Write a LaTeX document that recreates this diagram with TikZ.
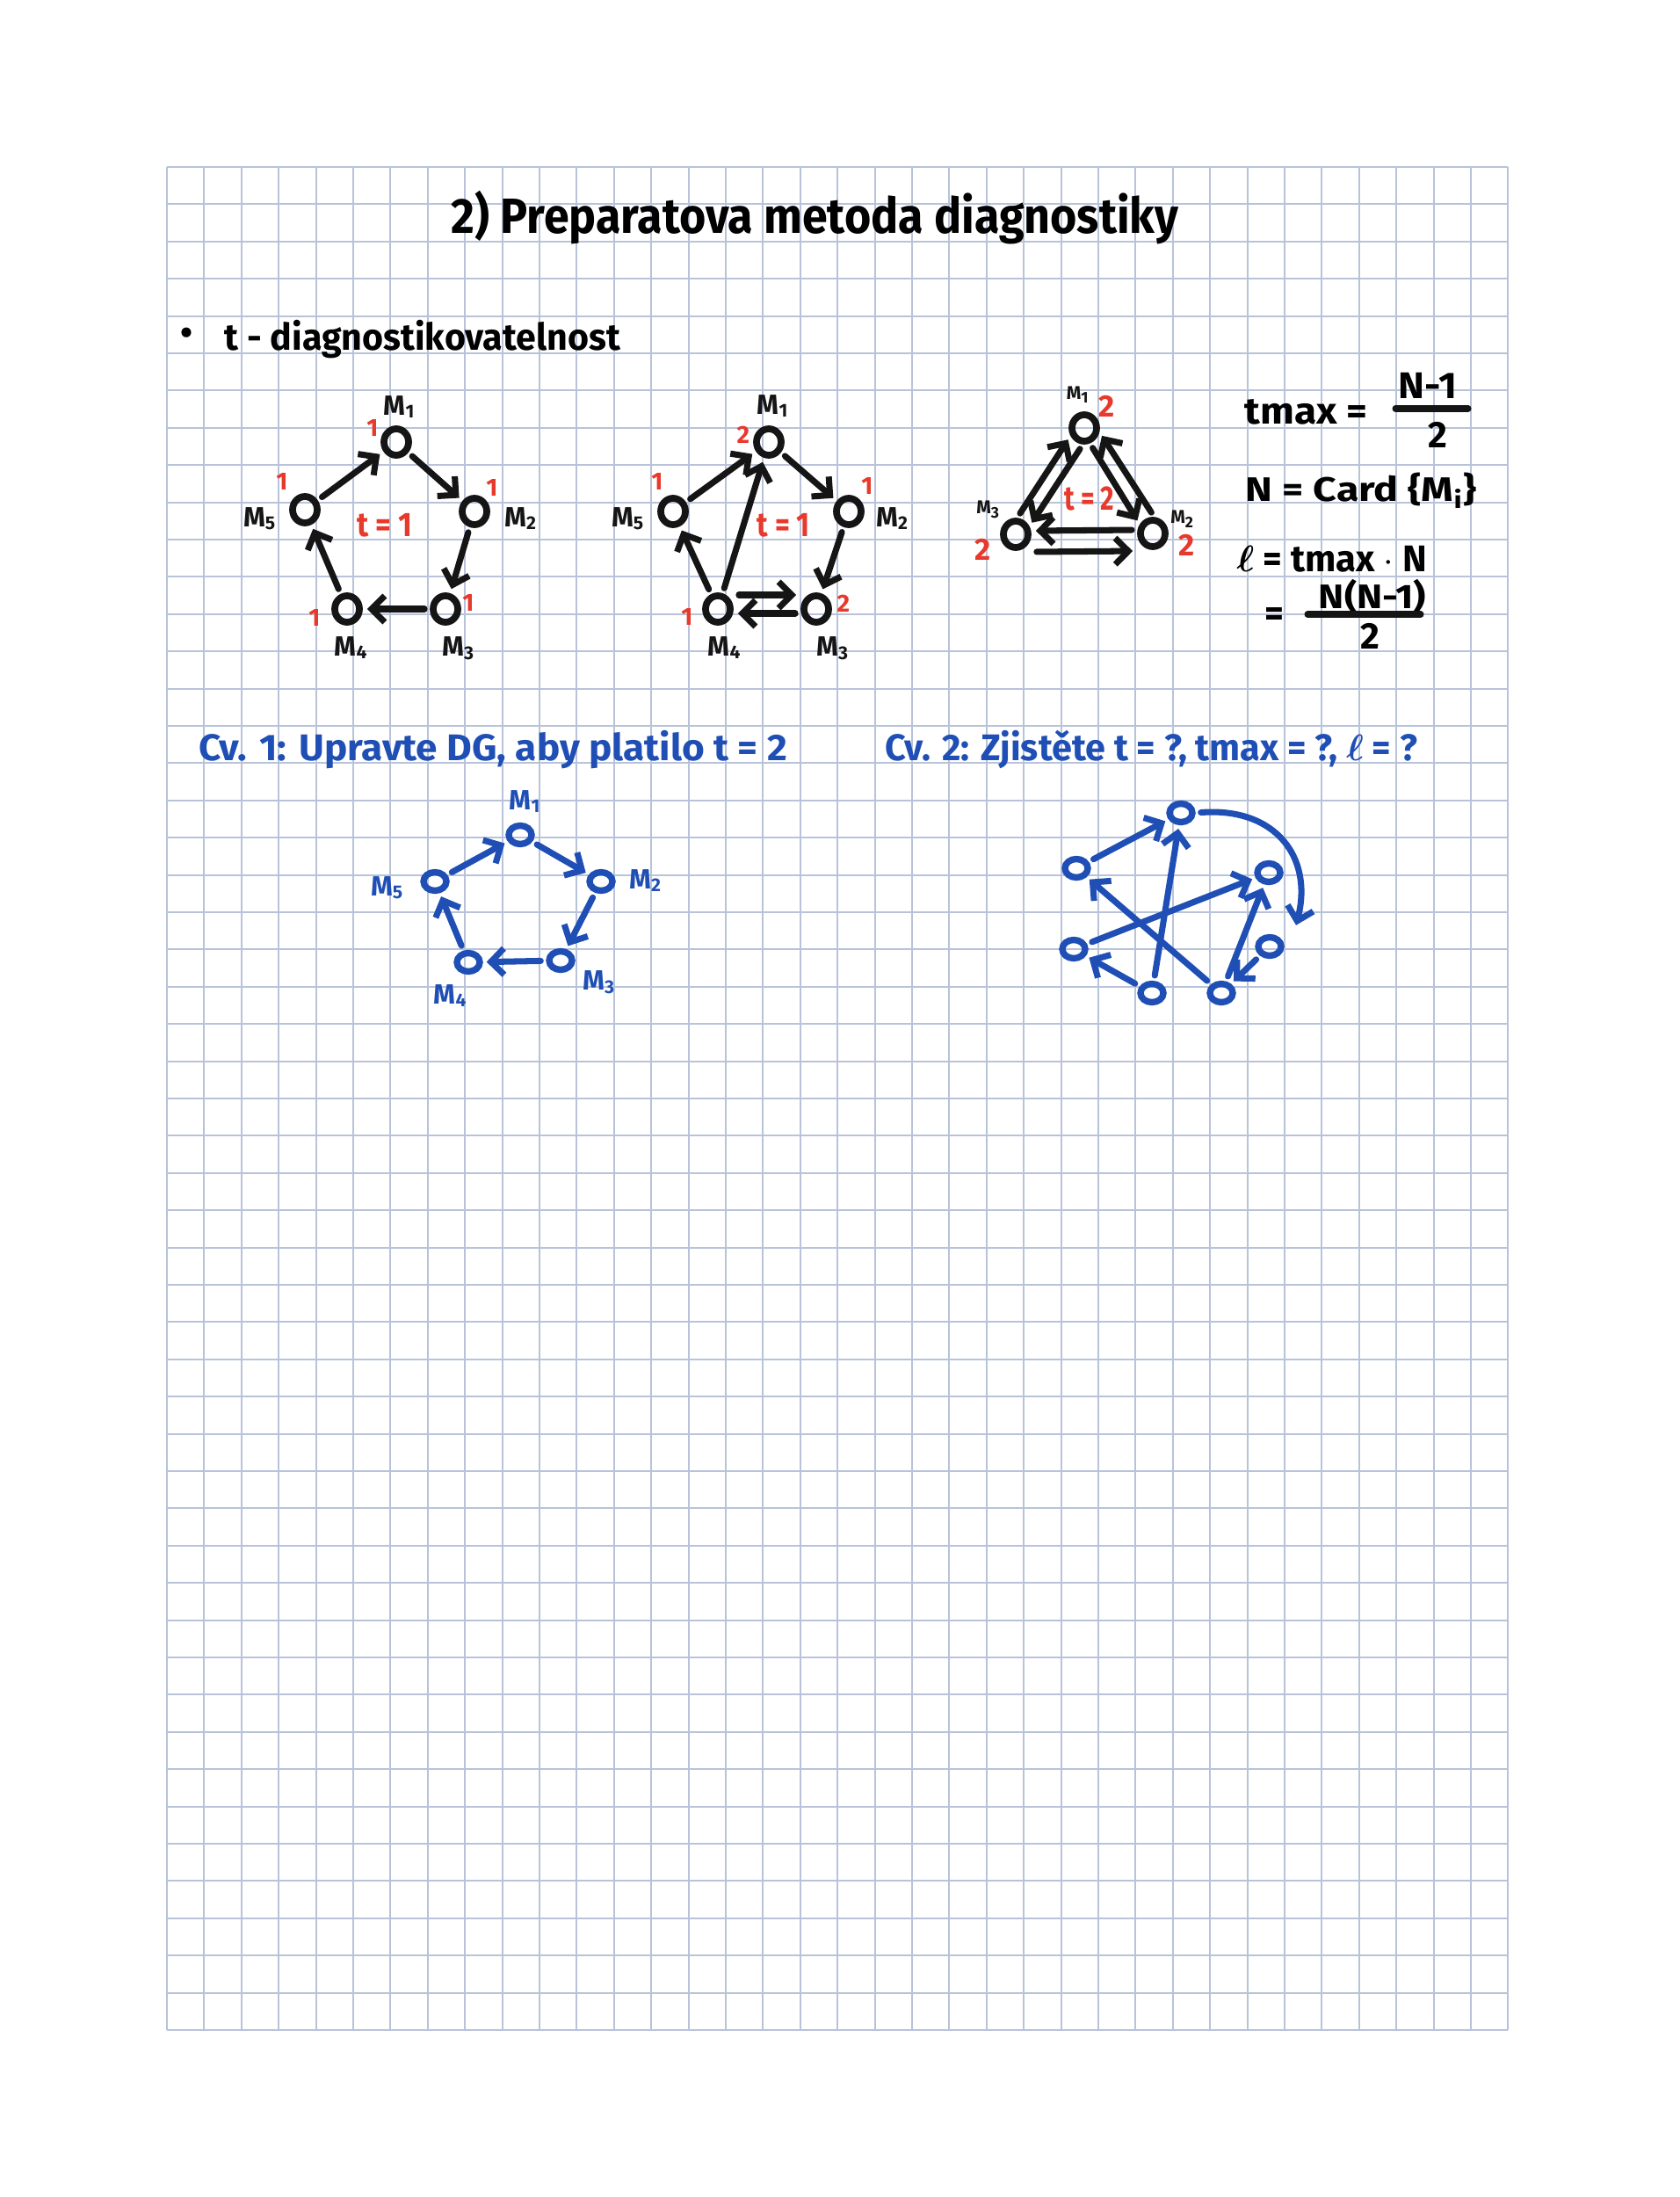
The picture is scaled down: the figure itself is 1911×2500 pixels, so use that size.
\documentclass[tikz,border=0pt]{standalone}
\usepackage{fontspec}
\setmainfont{Fira Sans}
\usepackage{graphicx}
\usetikzlibrary{arrows.meta,calc,shapes.geometric}
\definecolor{Ink}{HTML}{151515}
\definecolor{Red}{HTML}{E8392D}
\definecolor{Pen}{HTML}{1F4FB5}
\definecolor{Grid}{HTML}{B8C3DA}
\newcommand{\hw}[2]{\resizebox{#1}{\height}{#2}}
\newcommand{\mach}[1]{M\textsubscript{#1}}
\tikzset{
  gridline/.style={draw=Grid, line width=0.6pt},
  dgnode/.style={ellipse, draw=Ink, line width=2.2pt, minimum width=0.28cm, minimum height=0.30cm, inner sep=0pt},
  dgblue/.style={ellipse, draw=Pen, line width=2.1pt, minimum width=0.26cm, minimum height=0.21cm, inner sep=0pt},
  dgarrow/.style={draw=Ink, line width=2pt, line cap=round, -{Straight Barb[length=1.5mm,width=3mm]}, shorten <=0.06cm, shorten >=0.05cm},
  dgbluearrow/.style={dgarrow, draw=Pen, shorten <=0.06cm, shorten >=0.04cm},
  mlabel/.style={inner sep=0pt, text=Ink, font=\bfseries\fontsize{9}{9}\selectfont},
  rednum/.style={inner sep=0pt, text=Red, font=\bfseries\fontsize{8}{8}\selectfont},
  hand/.style={anchor=base west, inner sep=0pt, font=\bfseries\fontsize{12}{12}\selectfont},
}

\begin{document}
\begin{tikzpicture}[x=0.01cm, y=-0.01cm]
  \useasboundingbox (0,0) rectangle (1911,2500);
  \fill[white] (0,0) rectangle (1911,2500);
  \foreach \i in {0,...,36} \draw[gridline] ({190+42.4*\i},190) -- ({190+42.4*\i},2310);
  \foreach \j in {0,...,50} \draw[gridline] (190,{190+42.4*\j}) -- (1716.4,{190+42.4*\j});

  \node[hand, font=\bfseries\fontsize{16}{16}\selectfont] (title) at (513,265) {\hw{8.27cm}{2) Preparatova metoda diagnostiky}};
  \node[inner sep=0pt, font=\fontsize{14}{14}\selectfont] (bullet) at (212,384) {•};
  \node[hand] (topic) at (255,398) {\hw{4.5cm}{t - diagnostikovatelnost}};

  \node[dgnode] (aM1) at (451,503) {};
  \node[dgnode] (aM2) at (540,582) {};
  \node[dgnode] (aM3) at (507,693) {};
  \node[dgnode] (aM4) at (395,693) {};
  \node[dgnode] (aM5) at (347,580) {};
  \node[mlabel] (aL1) at (455,463) {\mach{1}};
  \node[mlabel] (aL2) at (593,590) {\mach{2}};
  \node[mlabel] (aL3) at (522,738) {\mach{3}};
  \node[mlabel] (aL4) at (400,737) {\mach{4}};
  \node[mlabel] (aL5) at (296,590) {\mach{5}};
  \node[rednum] (aR1) at (424,487) {1};
  \node[rednum] (aR2) at (560,555) {1};
  \node[rednum] (aR3) at (533,686) {1};
  \node[rednum] (aR4) at (358,703) {1};
  \node[rednum] (aR5) at (321,548) {1};
  \node[rednum, font=\bfseries\fontsize{11}{11}\selectfont] (aT) at (438,598) {\hw{0.63cm}{t = 1}};
  \draw[dgarrow] (aM5) -- (aM1);
  \draw[dgarrow] (aM1) -- (aM2);
  \draw[dgarrow] (aM2) -- (aM3);
  \draw[dgarrow] (aM3) -- (aM4);
  \draw[dgarrow] (aM4) -- (aM5);

  \node[dgnode] (bM1) at (875,503) {};
  \node[dgnode] (bM2) at (966,582) {};
  \node[dgnode] (bM3) at (929,693) {};
  \node[dgnode] (bM4) at (817,693) {};
  \node[dgnode] (bM5) at (766,582) {};
  \node[mlabel] (bL1) at (880,462) {\mach{1}};
  \node[mlabel] (bL2) at (1016,590) {\mach{2}};
  \node[mlabel] (bL3) at (948,738) {\mach{3}};
  \node[mlabel] (bL4) at (825,737) {\mach{4}};
  \node[mlabel] (bL5) at (715,590) {\mach{5}};
  \node[rednum] (bR1) at (846,495) {2};
  \node[rednum] (bR2) at (987,553) {1};
  \node[rednum] (bR3) at (960,687) {2};
  \node[rednum] (bR4) at (782,702) {1};
  \node[rednum] (bR5) at (748,548) {1};
  \node[rednum, font=\bfseries\fontsize{11}{11}\selectfont] (bT) at (892,598) {\hw{0.6cm}{t = 1}};
  \draw[dgarrow] (bM5) -- (bM1);
  \draw[dgarrow] (bM1) -- (bM2);
  \draw[dgarrow] (bM2) -- (bM3);
  \draw[dgarrow] (bM4) -- (bM5);
  \draw[dgarrow] (bM4) -- (bM1);
  \draw[dgarrow] ([yshift=0.16cm]bM4.east) -- ([yshift=0.16cm]bM3.west);
  \draw[dgarrow] ([yshift=-0.05cm]bM3.west) -- ([yshift=-0.05cm]bM4.east);

  \node[dgnode] (cM1) at (1234,487) {};
  \node[dgnode] (cM2) at (1312,607) {};
  \node[dgnode] (cM3) at (1156,608) {};
  \node[mlabel, font=\bfseries\fontsize{6}{6}\selectfont] (cL1) at (1227,449) {\mach{1}};
  \node[mlabel, font=\bfseries\fontsize{6}{6}\selectfont] (cL2) at (1346,591) {\mach{2}};
  \node[mlabel, font=\bfseries\fontsize{6}{6}\selectfont] (cL3) at (1125,580) {\mach{3}};
  \node[rednum, font=\bfseries\fontsize{10}{10}\selectfont] (cR1) at (1260,462) {2};
  \node[rednum, font=\bfseries\fontsize{10}{10}\selectfont] (cR2) at (1351,620) {2};
  \node[rednum, font=\bfseries\fontsize{10}{10}\selectfont] (cR3) at (1119,625) {2};
  \node[rednum, font=\bfseries\fontsize{11}{11}\selectfont] (cT) at (1240,567) {\hw{0.57cm}{t = 2}};
  \draw[dgarrow] (cM3.85) -- (cM1.210);
  \draw[dgarrow] (cM1.265) -- (cM3.30);
  \draw[dgarrow] (cM1.290) -- (cM2.145);
  \draw[dgarrow] (cM2.85) -- (cM1.345);
  \draw[dgarrow] ([yshift=0.04cm]cM2.west) -- ([yshift=0.04cm]cM3.east);
  \draw[dgarrow] ([yshift=-0.2cm]cM3.east) -- ([yshift=-0.2cm]cM2.west);

  \node[hand] (tmax) at (1416,482) {\hw{1.4cm}{tmax =}};
  \node[inner sep=0pt, font=\bfseries\fontsize{12}{12}\selectfont] (num1) at (1625,439) {\hw{0.66cm}{N-1}};
  \node[inner sep=0pt, font=\bfseries\fontsize{12}{12}\selectfont] (den1) at (1636,495) {2};
  \coordinate (bar1a) at (1588,465);
  \coordinate (bar1b) at (1671,465);
  \draw[Ink, line width=2pt, line cap=round] (bar1a) -- (bar1b);
  \node[hand, font=\bfseries\fontsize{11}{11}\selectfont] (card) at (1417,570) {\hw{2.63cm}{N = Card \{\mach{i}\}}};
  \node[hand] (ell) at (1407,650) {\hw{2.16cm}{{\boldmath$\ell$} = tmax $\cdot$ N}};
  \node[inner sep=0pt, font=\bfseries\fontsize{12}{12}\selectfont] (eq2) at (1450,702) {=};
  \node[inner sep=0pt, font=\bfseries\fontsize{11}{11}\selectfont] (num2) at (1562,679) {\hw{1.22cm}{N(N-1)}};
  \node[inner sep=0pt, font=\bfseries\fontsize{12}{12}\selectfont] (den2) at (1559,724) {2};
  \coordinate (bar2a) at (1488,699);
  \coordinate (bar2b) at (1617,699);
  \draw[Ink, line width=2pt, line cap=round] (bar2a) -- (bar2b);

  \node[hand, text=Pen] (cv1) at (226,865) {\hw{6.69cm}{Cv. 1: Upravte DG, aby platilo t = 2}};
  \node[hand, text=Pen] (cv2) at (1007,865) {\hw{6.05cm}{Cv. 2: Zjistěte t = ?, tmax = ?, {\boldmath$\ell$} = ?}};

  \node[dgblue] (dM1) at (592,950) {};
  \node[dgblue] (dM2) at (684,1003) {};
  \node[dgblue] (dM3) at (638,1093) {};
  \node[dgblue] (dM4) at (533,1095) {};
  \node[dgblue] (dM5) at (495,1003) {};
  \node[mlabel, text=Pen] (dL1) at (598,912) {\mach{1}};
  \node[mlabel, text=Pen] (dL2) at (735,1002) {\mach{2}};
  \node[mlabel, text=Pen] (dL3) at (682,1118) {\mach{3}};
  \node[mlabel, text=Pen] (dL4) at (513,1133) {\mach{4}};
  \node[mlabel, text=Pen] (dL5) at (441,1010) {\mach{5}};
  \draw[dgbluearrow] (dM5) -- (dM1);
  \draw[dgbluearrow] (dM1) -- (dM2);
  \draw[dgbluearrow] (dM2) -- (dM3);
  \draw[dgbluearrow] (dM3) -- (dM4);
  \draw[dgbluearrow] (dM4) -- (dM5);

  \node[dgblue] (eA) at (1344,925) {};
  \node[dgblue] (eB) at (1225,988) {};
  \node[dgblue] (eC) at (1444,993) {};
  \node[dgblue] (eD) at (1222,1080) {};
  \node[dgblue] (eE) at (1445,1077) {};
  \node[dgblue] (eF) at (1311,1130) {};
  \node[dgblue] (eG) at (1390,1130) {};
  \coordinate (eTip) at ([xshift=0.3cm,yshift=0.1cm]eE.north);
  \draw[dgbluearrow] (eB) -- (eA);
  \draw[dgbluearrow] (eF) -- (eA);
  \draw[dgbluearrow] (eD) -- (eC);
  \draw[dgbluearrow] (eG) -- (eB);
  \draw[dgbluearrow] (eG) -- (eC);
  \draw[dgbluearrow] (eF) -- (eD);
  \draw[dgbluearrow] (eE) -- (eG);
  \draw[dgbluearrow, shorten >=0pt] (eA.east) .. controls +(90,-7) and +(20,-78) .. (eTip);
\end{tikzpicture}
\end{document}
